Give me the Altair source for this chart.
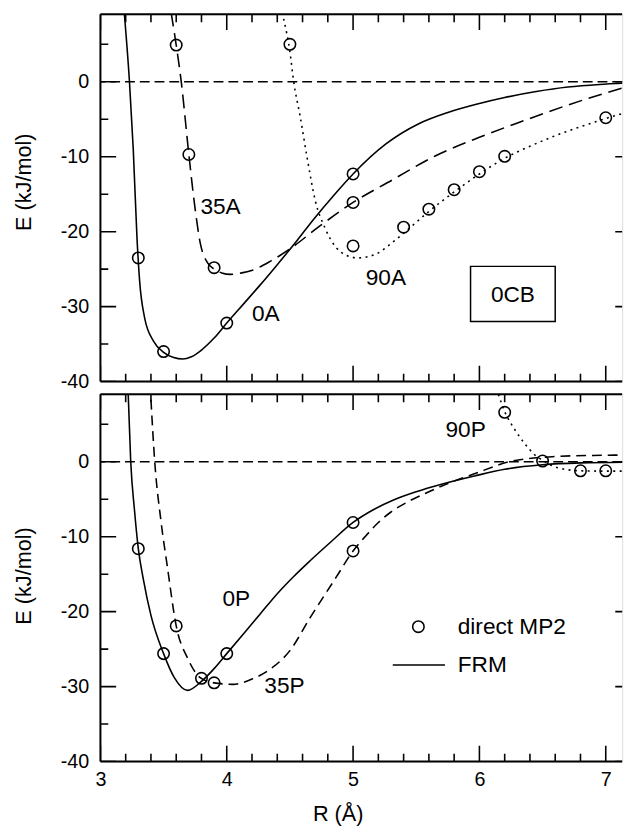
import altair as alt
import pandas as pd

FONT = "Liberation Sans"
W, H = 530, 373          # panel plot area (pixels)
XR = 539                 # x range: 3..7.2 Å spans slightly past the visible panel

# ---------------- upper panel: 0CB, "A" orientations ----------------
R_0A = [3.19, 3.23, 3.26, 3.29, 3.31, 3.35, 3.42, 3.5, 3.58, 3.65, 3.72, 3.8, 3.9, 4.0,
        4.13, 4.26, 4.4, 4.56, 4.69, 4.85, 5.0, 5.26, 5.52, 5.75, 6.0, 6.2, 6.45, 6.7, 6.95, 7.2]
E_0A = [9, 0, -9, -21, -26.5, -31.5, -34.6, -36.1, -36.8, -37.0, -36.7, -35.8, -34.2, -32.2,
        -29.7, -27.2, -24.4, -21.1, -18.3, -15.1, -12.3, -8.3, -5.6, -4.1, -2.9, -2.1, -1.3, -0.7, -0.35, -0.15]

R_35A = [3.56, 3.6, 3.64, 3.7, 3.75, 3.79, 3.85, 3.9, 3.96, 4.03, 4.12, 4.21, 4.35, 4.5,
         4.74, 5.0, 5.31, 5.65, 6.0, 6.35, 6.7, 7.2]
E_35A = [9.2, 4.9, 0, -9.7, -17, -21.5, -24.2, -25.0, -25.5, -25.7, -25.5, -25.1, -23.9, -22.3,
         -19.2, -16.1, -13.1, -9.9, -7.4, -5.2, -3.1, -0.5]

R_90A = [4.45, 4.5, 4.53, 4.58, 4.64, 4.7, 4.78, 4.86, 4.94, 5.04, 5.18, 5.3, 5.4, 5.6,
         5.8, 6.0, 6.2, 6.4, 6.6, 6.8, 7.0, 7.2]
E_90A = [8.4, 4.0, 0, -4.5, -10.5, -15.8, -19.6, -22.0, -23.1, -23.5, -23.0, -21.6, -20.2, -17.3,
         -14.7, -12.3, -10.2, -8.6, -7.2, -6.0, -4.9, -3.9]

MP2_0A_R = [3.3, 3.5, 4.0, 5.0]
MP2_0A_E = [-23.5, -36.0, -32.2, -12.3]
MP2_35A_R = [3.6, 3.7, 3.9, 5.0]
MP2_35A_E = [4.9, -9.7, -24.8, -16.1]
MP2_90A_R = [4.5, 5.0, 5.4, 5.6, 5.8, 6.0, 6.2, 7.0]
MP2_90A_E = [5.0, -21.9, -19.4, -17.0, -14.4, -12.0, -9.95, -4.8]

# ---------------- lower panel: "P" orientations ----------------
R_0P = [3.22, 3.24, 3.27, 3.3, 3.34, 3.4, 3.5, 3.585, 3.69, 3.8, 3.9, 4.0, 4.13, 4.26,
        4.4, 4.53, 4.66, 4.83, 5.0, 5.16, 5.32, 5.5, 5.7, 5.96, 6.2, 6.5, 6.8, 7.2]
E_0P = [9, 0, -6.5, -11.6, -15.7, -20.5, -25.6, -28.8, -30.5, -29.3, -27.6, -25.6, -23.0, -20.4,
        -17.6, -15.3, -13.2, -10.6, -8.1, -6.4, -5.1, -4.0, -3.0, -1.9, -1.0, -0.4, -0.15, -0.05]

R_35P = [3.40, 3.43, 3.48, 3.53, 3.6, 3.69, 3.79, 3.9, 4.05, 4.2, 4.35, 4.5, 4.66, 4.87,
         5.0, 5.1, 5.2, 5.3, 5.45, 5.6, 5.75, 5.96, 6.26, 6.6, 6.9, 7.2]
E_35P = [8.3, 0, -8, -14, -21.9, -26.2, -28.8, -29.5, -29.7, -29.0, -27.6, -25.2, -20.8, -15.3,
         -11.9, -9.9, -8.1, -6.7, -5.2, -4.0, -2.9, -1.6, 0.1, 0.7, 0.85, 0.9]

R_90P = [6.15, 6.2, 6.28, 6.36, 6.44, 6.5, 6.62, 6.8, 7.0, 7.2]
E_90P = [9.0, 6.7, 4.3, 2.4, 0.9, 0.2, -0.8, -1.2, -1.25, -1.25]

MP2_0P_R = [3.3, 3.5, 3.8, 4.0, 5.0]
MP2_0P_E = [-11.6, -25.6, -28.9, -25.6, -8.1]
MP2_35P_R = [3.6, 3.9, 5.0]
MP2_35P_E = [-21.9, -29.5, -11.9]
MP2_90P_R = [6.2, 6.5, 6.8, 7.0]
MP2_90P_E = [6.6, 0.1, -1.2, -1.2]

# ---------------- axes ----------------
X_DOMAIN = [3, 7.2]
Y_DOMAIN = [-40, 9]
X_MAJOR = [3, 4, 5, 6, 7]
X_MINOR = [3.2, 3.4, 3.6, 3.8, 4.2, 4.4, 4.6, 4.8, 5.2, 5.4, 5.6, 5.8,
           6.2, 6.4, 6.6, 6.8, 7.2]
Y_MAJOR = [-40, -30, -20, -10, 0]
Y_MINOR = [-35, -25, -15, -5, 5]

xscale = alt.Scale(domain=X_DOMAIN, range=[0, XR], nice=False, zero=False)
yscale = alt.Scale(domain=Y_DOMAIN, nice=False, zero=False)

INK = "black"
TXT = 23


def make_panel(curves, points, texts, x_axis, title_y, extra=None):
    y_axis = alt.Axis(values=Y_MAJOR, title="E (kJ/mol)", domain=False, ticks=False,
                      tickSize=0, grid=False, labelPadding=12, labelFontSize=20,
                      labelExpr="'' + datum.value",
                      titleFontSize=22, titleFontWeight="normal", titleX=-71,
                      titleY=title_y, titleBaseline="alphabetic", labelOverlap=False)
    X = alt.X("R:Q", scale=xscale, axis=x_axis)
    Y = alt.Y("E:Q", scale=yscale, axis=y_axis)
    one = pd.DataFrame({"k": [0]})
    layers = []

    # zero reference
    layers.append(alt.Chart(one).mark_rule(color=INK, strokeWidth=1.4, strokeDash=[10, 5])
                  .encode(y=alt.datum(0, scale=yscale, axis=y_axis)))

    for (R, E, dash) in curves:
        df = pd.DataFrame({"R": R, "E": E})
        kw = dict(color=INK, strokeWidth=1.6, interpolate="monotone", clip=True)
        if dash is not None:
            kw["strokeDash"] = dash
        layers.append(alt.Chart(df).mark_line(**kw).encode(x=X, y=Y))

    for (R, E) in points:
        df = pd.DataFrame({"R": R, "E": E})
        layers.append(alt.Chart(df).mark_point(shape="circle", size=135, filled=False,
                                               color=INK, strokeWidth=1.6, opacity=1, clip=True)
                      .encode(x=X, y=Y))

    # frame (left, top, bottom)
    layers.append(alt.Chart(one).mark_rule(color=INK, strokeWidth=2)
                  .encode(x=alt.value(0), y=alt.value(0), y2=alt.value(H)))
    layers.append(alt.Chart(one).mark_rule(color=INK, strokeWidth=2)
                  .encode(y=alt.value(0), x=alt.value(0), x2=alt.value(W)))
    layers.append(alt.Chart(one).mark_rule(color=INK, strokeWidth=2)
                  .encode(y=alt.value(H), x=alt.value(0), x2=alt.value(W)))

    # inward ticks
    ymaj = pd.DataFrame({"E": Y_MAJOR})
    ymin = pd.DataFrame({"E": Y_MINOR})
    xmaj = pd.DataFrame({"R": X_MAJOR})
    xmin = pd.DataFrame({"R": X_MINOR})
    for df, ln in ((ymaj, 16), (ymin, 8)):
        layers.append(alt.Chart(df).mark_rule(color=INK, strokeWidth=1.6, clip=True)
                      .encode(y=Y, x=alt.value(0), x2=alt.value(ln)))
        layers.append(alt.Chart(df).mark_rule(color=INK, strokeWidth=1.6, clip=True)
                      .encode(y=Y, x=alt.value(XR - ln), x2=alt.value(XR)))
    for df, ln in ((xmaj, 16), (xmin, 8)):
        layers.append(alt.Chart(df).mark_rule(color=INK, strokeWidth=1.6, clip=True)
                      .encode(x=X, y=alt.value(0), y2=alt.value(ln)))
        layers.append(alt.Chart(df).mark_rule(color=INK, strokeWidth=1.6, clip=True)
                      .encode(x=X, y=alt.value(H - ln), y2=alt.value(H)))

    for (txt, px, py) in texts:
        layers.append(alt.Chart(one).mark_text(text=txt, font=FONT, fontSize=TXT, color=INK,
                                               align="center", baseline="middle")
                      .encode(x=alt.value(px), y=alt.value(py)))

    if extra:
        layers.extend(extra)

    return alt.layer(*layers).properties(width=W, height=H)


one = pd.DataFrame({"k": [0]})

# 0CB tag box
box = alt.Chart(one).mark_rect(fill=None, stroke=INK, strokeWidth=1.5).encode(
    x=alt.value(376), x2=alt.value(462), y=alt.value(256), y2=alt.value(312))

top = make_panel(
    curves=[(R_0A, E_0A, None), (R_35A, E_35A, [14, 7]), (R_90A, E_90A, [2, 4.5])],
    points=[(MP2_0A_R, MP2_0A_E), (MP2_35A_R, MP2_35A_E), (MP2_90A_R, MP2_90A_E)],
    texts=[("35A", 122, 196), ("0A", 168, 304), ("90A", 290, 268), ("0CB", 419, 285)],
    x_axis=None, title_y=170, extra=[box])

# legend entries
leg = [
    alt.Chart(one).mark_point(shape="circle", size=135, filled=False, color=INK,
                              strokeWidth=1.6, opacity=1)
    .encode(x=alt.value(323), y=alt.value(236)),
    alt.Chart(one).mark_text(text="direct MP2", font=FONT, fontSize=TXT, color=INK,
                             align="left", baseline="middle")
    .encode(x=alt.value(363), y=alt.value(236)),
    alt.Chart(one).mark_rule(color=INK, strokeWidth=1.6)
    .encode(x=alt.value(297), x2=alt.value(350), y=alt.value(275)),
    alt.Chart(one).mark_text(text="FRM", font=FONT, fontSize=TXT, color=INK,
                             align="left", baseline="middle")
    .encode(x=alt.value(363), y=alt.value(275)),
]

x_axis_bottom = alt.Axis(values=X_MAJOR, title="R (Å)", domain=False, ticks=False, tickSize=0,
                         grid=False, labelFlush=False, labelPadding=8, labelFontSize=20,
                         titleFontSize=22, titleFontWeight="normal", titlePadding=15,
                         titleX=241)

bottom = make_panel(
    curves=[(R_0P, E_0P, None), (R_35P, E_35P, [10, 6]), (R_90P, E_90P, [2, 4.5])],
    points=[(MP2_0P_R, MP2_0P_E), (MP2_35P_R, MP2_35P_E), (MP2_90P_R, MP2_90P_E)],
    texts=[("90P", 371, 36), ("0P", 138, 208), ("35P", 187, 296)],
    x_axis=x_axis_bottom, title_y=184, extra=leg)

chart = (
    alt.vconcat(top, bottom, spacing=0)
    .properties(padding={"left": 12, "top": 6, "right": 0, "bottom": 0})
    .configure_view(stroke=None)
    .configure_axis(labelFont=FONT, titleFont=FONT, labelColor=INK, titleColor=INK)
    .configure(background="white")
)

chart.save("out.html", embed_options={"renderer": "svg", "actions": False})
